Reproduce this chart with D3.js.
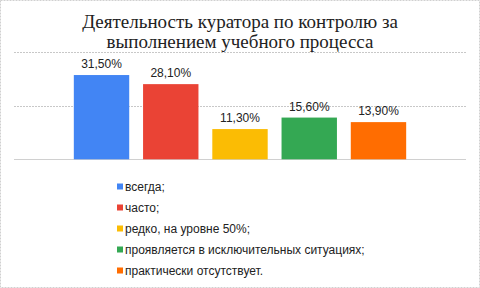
<!DOCTYPE html>
<html>
<head>
<meta charset="utf-8">
<script src="https://cdn.jsdelivr.net/npm/d3@7"></script>
<style>
  body { margin: 0; background: #fff; }
  svg { display: block; }
</style>
</head>
<body>
<div id="container"></div>
<script>
/* CONSTANTS AND GLOBALS */
const width = 480
const height = 288

// data
const titleLines = ["Деятельность куратора по контролю за", "выполнением учебного процесса"]
const categories = ["всегда;", "часто;", "редко, на уровне 50%;", "проявляется в исключительных ситуациях;", "практически отсутствует."]
const values = [31.5, 28.1, 11.3, 15.6, 13.9]
const labels = ["31,50%", "28,10%", "11,30%", "15,60%", "13,90%"]
const colors = ["#4285F4", "#EA4335", "#FBBC04", "#34A853", "#FF6D01"]
const gridTicks = [0, 20, 40]

const svg = d3.select("#container")
  .append("svg")
  .attr("width", width)
  .attr("height", height)

// outer dashed frame
svg.append("rect")
  .attr("x", 0.5).attr("y", 0.5)
  .attr("width", width - 1).attr("height", height - 1)
  .attr("fill", "#fff")
  .attr("stroke", "#d0d0d0")
  .attr("stroke-dasharray", "2,1")

// TITLE
svg.append("text")
  .attr("text-anchor", "middle")
  .attr("font-family", "'Liberation Serif', 'Times New Roman', serif")
  .attr("font-size", 19)
  .attr("fill", "#222")
  .selectAll("tspan")
  .data(titleLines)
  .join("tspan")
  .attr("x", width / 2)
  .attr("y", (d, i) => 28 + i * 20)
  .text(d => d)

// SCALES
const yScale = d3.scaleLinear()
  .domain([0, 40])
  .range([159.3, 52.3])

const xScale = d3.scaleBand()
  .domain(categories)
  .range([66.9, 413.1])
  .paddingInner(0.2)
  .paddingOuter(0.1)

// GRID
svg.selectAll(".grid")
  .data(gridTicks)
  .join("line")
  .attr("class", "grid")
  .attr("x1", 14).attr("x2", 466)
  .attr("y1", d => Math.round(yScale(d)) + 0.5)
  .attr("y2", d => Math.round(yScale(d)) + 0.5)
  .attr("stroke", d => d === 0 ? "#d0d0d0" : "#c8c8c8")
  .attr("stroke-width", 1)
  .attr("stroke-dasharray", d => d === 0 ? null : "2,1")

// BARS
svg.selectAll(".bar")
  .data(values)
  .join("rect")
  .attr("class", "bar")
  .attr("x", (d, i) => xScale(categories[i]))
  .attr("width", xScale.bandwidth())
  .attr("y", d => yScale(d))
  .attr("height", d => yScale(0) - yScale(d))
  .attr("fill", (d, i) => colors[i])

// VALUE LABELS
svg.selectAll(".val")
  .data(values)
  .join("text")
  .attr("class", "val")
  .attr("x", (d, i) => xScale(categories[i]) + xScale.bandwidth() / 2)
  .attr("y", d => yScale(d) - 7)
  .attr("text-anchor", "middle")
  .attr("font-family", "'Liberation Sans', Arial, sans-serif")
  .attr("font-size", 12)
  .attr("fill", "#222")
  .text((d, i) => labels[i])

// LEGEND
const legend = svg.selectAll(".legend")
  .data(categories)
  .join("g")
  .attr("class", "legend")
  .attr("transform", (d, i) => `translate(117, ${186.5 + i * 21})`)

legend.append("rect")
  .attr("x", 0).attr("y", -3)
  .attr("width", 6).attr("height", 6)
  .attr("fill", (d, i) => colors[i])

legend.append("text")
  .attr("x", 8)
  .attr("y", 4.5)
  .attr("font-family", "'Liberation Sans', Arial, sans-serif")
  .attr("font-size", 12)
  .attr("fill", "#222")
  .text(d => d)
</script>
</body>
</html>
